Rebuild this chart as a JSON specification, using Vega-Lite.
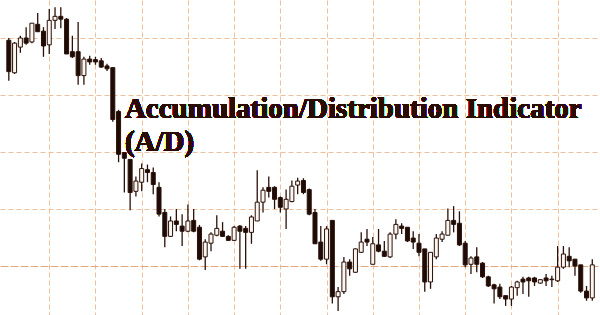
{
  "$schema": "https://vega.github.io/schema/vega-lite/v6.json",
  "width": 600,
  "height": 315,
  "autosize": {"type": "fit", "contains": "padding"},
  "padding": 0,
  "background": "#ffffff",
  "config": {
    "view": {"stroke": null},
    "axis": {"labels": false, "ticks": false, "domain": false, "grid": true, "gridWidth": 1, "gridDash": [5, 3], "gridColor": "#eebf9c"}
  },
  "data": {
    "values": [
      {"t":1,"o":49.6,"h":50.0,"l":42.5,"c":44.1},
      {"t":2,"o":43.9,"h":49.3,"l":43.7,"c":49.1},
      {"t":3,"o":48.4,"h":50.4,"l":47.4,"c":50.0},
      {"t":4,"o":50.0,"h":51.9,"l":48.8,"c":49.1},
      {"t":5,"o":49.3,"h":52.6,"l":49.1,"c":52.6},
      {"t":6,"o":52.4,"h":54.4,"l":51.1,"c":51.1},
      {"t":7,"o":51.2,"h":51.9,"l":46.7,"c":48.6},
      {"t":8,"o":48.8,"h":55.1,"l":47.2,"c":53.1},
      {"t":9,"o":53.1,"h":55.4,"l":51.6,"c":53.8},
      {"t":10,"o":53.8,"h":55.4,"l":51.7,"c":53.3},
      {"t":11,"o":53.3,"h":53.5,"l":47.2,"c":47.2},
      {"t":12,"o":47.6,"h":50.4,"l":46.5,"c":46.7},
      {"t":13,"o":47.6,"h":52.8,"l":41.8,"c":43.4},
      {"t":14,"o":43.4,"h":46.7,"l":41.8,"c":46.3},
      {"t":15,"o":46.3,"h":46.9,"l":45.3,"c":45.8},
      {"t":16,"o":46.2,"h":46.7,"l":45.3,"c":45.8},
      {"t":17,"o":46.0,"h":46.5,"l":44.8,"c":44.9},
      {"t":18,"o":45.1,"h":45.5,"l":44.2,"c":44.6},
      {"t":19,"o":44.8,"h":44.8,"l":35.3,"c":35.7},
      {"t":20,"o":37.1,"h":37.4,"l":28.2,"c":29.6},
      {"t":21,"o":29.9,"h":29.9,"l":22.9,"c":28.9},
      {"t":22,"o":28.7,"h":28.7,"l":19.8,"c":22.9},
      {"t":23,"o":23.1,"h":25.7,"l":22.2,"c":24.9},
      {"t":24,"o":24.7,"h":28.0,"l":23.1,"c":27.1},
      {"t":25,"o":26.9,"h":27.8,"l":24.7,"c":26.4},
      {"t":26,"o":26.4,"h":27.3,"l":22.6,"c":24.3},
      {"t":27,"o":23.8,"h":24.7,"l":18.7,"c":19.1},
      {"t":28,"o":19.4,"h":20.0,"l":13.3,"c":15.2},
      {"t":29,"o":15.2,"h":18.7,"l":15.1,"c":17.9},
      {"t":30,"o":17.9,"h":20.0,"l":16.1,"c":17.3},
      {"t":31,"o":17.0,"h":19.1,"l":13.5,"c":16.1},
      {"t":32,"o":16.1,"h":20.8,"l":15.9,"c":17.9},
      {"t":33,"o":18.0,"h":20.0,"l":15.9,"c":16.1},
      {"t":34,"o":16.8,"h":17.2,"l":11.0,"c":11.2},
      {"t":35,"o":11.6,"h":14.7,"l":9.3,"c":14.2},
      {"t":36,"o":14.0,"h":15.9,"l":12.6,"c":15.6},
      {"t":37,"o":15.4,"h":18.9,"l":15.2,"c":16.6},
      {"t":38,"o":16.1,"h":17.7,"l":15.1,"c":15.2},
      {"t":39,"o":15.2,"h":15.4,"l":14.4,"c":14.5},
      {"t":40,"o":14.5,"h":17.0,"l":14.4,"c":16.8},
      {"t":41,"o":17.0,"h":17.2,"l":9.5,"c":16.1},
      {"t":42,"o":16.6,"h":17.0,"l":9.5,"c":15.9},
      {"t":43,"o":15.9,"h":18.9,"l":13.9,"c":18.6},
      {"t":44,"o":17.9,"h":26.8,"l":17.9,"c":21.2},
      {"t":45,"o":21.2,"h":23.8,"l":19.4,"c":23.3},
      {"t":46,"o":23.8,"h":25.7,"l":22.0,"c":23.1},
      {"t":47,"o":23.8,"h":24.0,"l":20.0,"c":21.7},
      {"t":48,"o":22.0,"h":22.2,"l":19.4,"c":20.3},
      {"t":49,"o":20.0,"h":23.4,"l":16.5,"c":21.7},
      {"t":50,"o":21.3,"h":25.0,"l":21.2,"c":24.0},
      {"t":51,"o":24.2,"h":25.5,"l":22.6,"c":24.9},
      {"t":52,"o":25.0,"h":25.4,"l":22.6,"c":22.9},
      {"t":53,"o":23.4,"h":23.6,"l":18.9,"c":19.1},
      {"t":54,"o":19.4,"h":20.0,"l":13.9,"c":13.9},
      {"t":55,"o":14.2,"h":17.0,"l":10.9,"c":11.2},
      {"t":56,"o":11.2,"h":17.0,"l":10.3,"c":16.5},
      {"t":57,"o":18.0,"h":18.0,"l":3.4,"c":4.6},
      {"t":58,"o":4.6,"h":6.3,"l":2.1,"c":5.5},
      {"t":59,"o":5.5,"h":11.6,"l":5.1,"c":10.7},
      {"t":60,"o":10.7,"h":11.2,"l":8.3,"c":9.5},
      {"t":61,"o":8.9,"h":13.1,"l":8.8,"c":13.0},
      {"t":62,"o":12.4,"h":15.9,"l":12.3,"c":14.2},
      {"t":63,"o":14.7,"h":16.5,"l":13.5,"c":14.2},
      {"t":64,"o":10.3,"h":15.1,"l":10.3,"c":13.9},
      {"t":65,"o":13.7,"h":16.5,"l":12.4,"c":12.6},
      {"t":66,"o":12.6,"h":14.4,"l":11.6,"c":11.7},
      {"t":67,"o":11.6,"h":15.9,"l":11.4,"c":15.6},
      {"t":68,"o":15.6,"h":18.2,"l":14.7,"c":17.3},
      {"t":69,"o":17.0,"h":17.5,"l":15.6,"c":16.6},
      {"t":70,"o":16.8,"h":16.8,"l":14.2,"c":14.4},
      {"t":71,"o":14.9,"h":16.1,"l":13.0,"c":14.2},
      {"t":72,"o":14.0,"h":15.6,"l":11.7,"c":12.4},
      {"t":73,"o":13.0,"h":13.0,"l":5.5,"c":7.2},
      {"t":74,"o":7.2,"h":12.4,"l":6.0,"c":12.4},
      {"t":75,"o":11.6,"h":15.6,"l":11.2,"c":14.9},
      {"t":76,"o":14.7,"h":16.1,"l":14.2,"c":15.6},
      {"t":77,"o":15.4,"h":20.1,"l":15.4,"c":18.0},
      {"t":78,"o":18.0,"h":20.5,"l":15.9,"c":17.3},
      {"t":79,"o":17.5,"h":19.6,"l":13.5,"c":13.7},
      {"t":80,"o":14.0,"h":14.4,"l":9.8,"c":10.2},
      {"t":81,"o":10.3,"h":11.7,"l":8.6,"c":11.4},
      {"t":82,"o":11.6,"h":13.3,"l":8.9,"c":10.3},
      {"t":83,"o":10.5,"h":10.7,"l":7.9,"c":8.1},
      {"t":84,"o":8.1,"h":8.3,"l":6.3,"c":6.5},
      {"t":85,"o":6.7,"h":6.9,"l":3.4,"c":6.0},
      {"t":86,"o":6.3,"h":6.9,"l":4.2,"c":4.6},
      {"t":87,"o":4.8,"h":4.8,"l":3.0,"c":4.2},
      {"t":88,"o":4.2,"h":6.5,"l":3.0,"c":6.3},
      {"t":89,"o":6.2,"h":7.4,"l":4.8,"c":7.2},
      {"t":90,"o":7.7,"h":8.1,"l":5.1,"c":7.2},
      {"t":91,"o":7.9,"h":8.1,"l":4.6,"c":7.4},
      {"t":92,"o":7.9,"h":8.1,"l":6.5,"c":7.2},
      {"t":93,"o":7.0,"h":7.7,"l":6.9,"c":7.6},
      {"t":94,"o":7.9,"h":8.6,"l":6.5,"c":7.4},
      {"t":95,"o":7.7,"h":8.3,"l":6.3,"c":7.6},
      {"t":96,"o":7.4,"h":13.5,"l":7.2,"c":9.8},
      {"t":97,"o":9.8,"h":13.5,"l":9.5,"c":12.1},
      {"t":98,"o":11.7,"h":13.3,"l":9.8,"c":10.9},
      {"t":99,"o":11.2,"h":11.2,"l":8.3,"c":10.0},
      {"t":100,"o":10.2,"h":10.2,"l":5.3,"c":5.6},
      {"t":101,"o":5.6,"h":6.5,"l":3.9,"c":4.4},
      {"t":102,"o":4.4,"h":11.2,"l":3.9,"c":10.2}
    ]
  },
  "encoding": {
    "x": {
      "field": "t", "type": "quantitative",
      "scale": {"domain": [0.34, 102.468], "nice": false, "zero": false},
      "axis": {"values": [8, 16, 24, 32, 40, 48, 56, 64, 72, 80, 88, 96], "title": null}
    },
    "y": {
      "field": "l", "type": "quantitative",
      "scale": {"domain": [1.404, 56.667], "nice": false, "zero": false},
      "axis": {"values": [10, 20, 30, 40, 50], "title": null,
        "gridColor": {"condition": {"test": "datum.value === 10", "value": "#e4a87e"}, "value": "#eebf9c"},
        "gridDash": {"condition": {"test": "datum.value === 10", "value": [8, 2]}, "value": [5, 3]}}
    }
  },
  "layer": [
    {
      "mark": {"type": "rule", "color": "#2a1008", "strokeWidth": 1.3},
      "encoding": {
        "y2": {"field": "h"}
      }
    },
    {
      "mark": {"type": "bar", "width": 4, "stroke": "#2a1008", "strokeWidth": 1},
      "encoding": {
        "y": {
          "field": "o", "type": "quantitative",
          "scale": {"domain": [1.404, 56.667], "nice": false, "zero": false},
          "axis": {"values": [10, 20, 30, 40, 50], "title": null,
            "gridColor": {"condition": {"test": "datum.value === 10", "value": "#e4a87e"}, "value": "#eebf9c"},
            "gridDash": {"condition": {"test": "datum.value === 10", "value": [8, 2]}, "value": [5, 3]}}
        },
        "y2": {"field": "c"},
        "fill": {"condition": {"test": "datum.c > datum.o", "value": "#fdf6f0"}, "value": "#1e0b05"}
      }
    },
    {
      "mark": {"type": "text", "text": ["Accumulation/Distribution Indicator", "(A/D)"], "align": "left", "baseline": "alphabetic", "font": "Liberation Serif", "fontWeight": "bold", "fontSize": 29, "lineHeight": 33, "fill": "#2a0c05"},
      "encoding": {
        "x": {
          "datum": 21.1, "type": "quantitative",
          "scale": {"domain": [0.34, 102.468], "nice": false, "zero": false},
          "axis": {"values": [8, 16, 24, 32, 40, 48, 56, 64, 72, 80, 88, 96], "title": null}
        },
        "y": {
          "datum": 36.0, "type": "quantitative",
          "scale": {"domain": [1.404, 56.667], "nice": false, "zero": false},
          "axis": {"values": [10, 20, 30, 40, 50], "title": null,
            "gridColor": {"condition": {"test": "datum.value === 10", "value": "#e4a87e"}, "value": "#eebf9c"},
            "gridDash": {"condition": {"test": "datum.value === 10", "value": [8, 2]}, "value": [5, 3]}}
        }
      }
    }
  ]
}
